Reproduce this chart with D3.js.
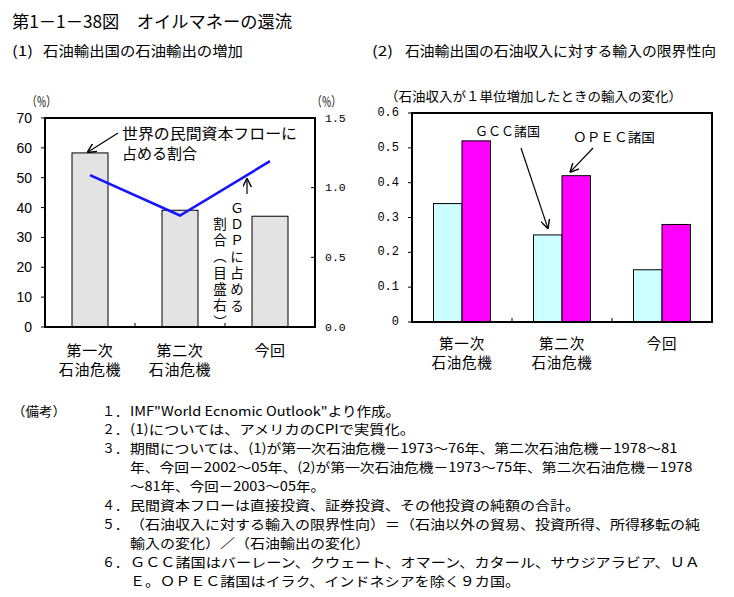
<!DOCTYPE html>
<html><head><meta charset="utf-8">
<script src="https://cdn.jsdelivr.net/npm/d3@7"></script>
<style>
body{margin:0;background:#fff;}
svg{display:block;font-family:"Noto Sans CJK JP","Noto Sans",sans-serif;}
</style></head>
<body>
<script>
// ---------- data ----------
const categories = ["第一次|石油危機", "第二次|石油危機", "今回"];
const privateFlowShare = [58.3, 39.1, 37.1];      // left axis (%) bars
const gdpShare = [1.09, 0.80, 1.19];               // right axis (%) line
const leftTicks = [0, 10, 20, 30, 40, 50, 60, 70];
const rightTicks = [0.0, 0.5, 1.0, 1.5];
const gccValues = [0.34, 0.25, 0.15];
const opecValues = [0.52, 0.42, 0.28];
const rightChartTicks = [0, 0.1, 0.2, 0.3, 0.4, 0.5, 0.6];
const notes = [
  ["１．", "IMF\"World Ecnomic Outlook\"より作成。"],
  ["２．", "(1)については、アメリカのCPIで実質化。"],
  ["３．", "期間については、(1)が第一次石油危機－1973～76年、第二次石油危機－1978～81"],
  ["", "年、今回－2002～05年、(2)が第一次石油危機－1973～75年、第二次石油危機－1978"],
  ["", "～81年、今回－2003～05年。"],
  ["４．", "民間資本フローは直接投資、証券投資、その他投資の純額の合計。"],
  ["５．", "（石油収入に対する輸入の限界性向）＝（石油以外の貿易、投資所得、所得移転の純"],
  ["", "輸入の変化）／（石油輸出の変化）"],
  ["６．", "ＧＣＣ諸国はバーレーン、クウェート、オマーン、カタール、サウジアラビア、ＵＡ"],
  ["", "Ｅ。ＯＰＥＣ諸国はイラク、インドネシアを除く９カ国。"]
];

// ---------- helpers ----------
function cells(str, full) {
  let w = 0;
  for (const ch of str) { const c = ch.codePointAt(0); w += (c < 0x100 || (c >= 0xFF61 && c <= 0xFF9F)) ? full / 2 : full; }
  return w;
}
const svg = d3.select("body").append("svg").attr("width", 734).attr("height", 597);
svg.append("rect").attr("width", 734).attr("height", 597).attr("fill", "#fff");
const defs = svg.append("defs");
defs.append("marker").attr("id", "ah").attr("viewBox", "0 0 10 10").attr("refX", 9).attr("refY", 5)
  .attr("markerWidth", 9).attr("markerHeight", 9).attr("markerUnits", "userSpaceOnUse").attr("orient", "auto")
  .append("path").attr("d", "M0,0 L10,5 L0,10").attr("fill", "none").attr("stroke", "#000").attr("stroke-width", 1.6);

function txt(x, y, s, opt = {}) {
  const t = svg.append("text").attr("x", x).attr("y", y).text(s)
    .attr("font-size", opt.size || 14).attr("fill", "#000")
    .attr("dominant-baseline", "central")
    .attr("text-anchor", opt.anchor || "start");
  if (opt.len) t.attr("textLength", opt.len).attr("lengthAdjust", "spacingAndGlyphs");
  if (opt.family) t.attr("font-family", opt.family);
  if (opt.ls) t.attr("letter-spacing", opt.ls);
  if (opt.vertical) t.style("writing-mode", "vertical-rl");
  return t;
}

// ---------- titles ----------
txt(12, 20, "第1－1－38図　オイルマネーの還流", { size: 17, len: 280 });
txt(12, 50, "(1)", { size: 14, len: 21 });
txt(43, 50, "石油輸出国の石油輸出の増加", { size: 14, len: 200 });
txt(372, 50, "(2)", { size: 14, len: 21 });
txt(405, 50, "石油輸出国の石油収入に対する輸入の限界性向", { size: 14, len: 311 });

// ---------- chart 1 ----------
const L = { l: 45, r: 315, t: 118, b: 327 };
const x1 = d3.scaleBand().domain(categories).range([L.l, L.r]);
const yL = d3.scaleLinear().domain([0, 70]).range([L.b, L.t]);
const yR = d3.scaleLinear().domain([0, 1.5]).range([L.b, L.t]);
const bw1 = x1.bandwidth();

const g1 = svg.append("g");
g1.selectAll("rect.bar").data(categories).join("rect")
  .attr("x", d => x1(d) + bw1 * 0.3).attr("width", bw1 * 0.4)
  .attr("y", (d, i) => yL(privateFlowShare[i])).attr("height", (d, i) => L.b - yL(privateFlowShare[i]))
  .attr("fill", "#e3e3e3").attr("stroke", "#000").attr("stroke-width", 1);

g1.append("path").datum(gdpShare)
  .attr("d", d3.line().x((d, i) => x1(categories[i]) + bw1 / 2).y(d => yR(d)))
  .attr("fill", "none").attr("stroke", "#1414ff").attr("stroke-width", 2.6);

g1.append("rect").attr("x", L.l).attr("y", L.t).attr("width", L.r - L.l).attr("height", L.b - L.t)
  .attr("fill", "none").attr("stroke", "#000").attr("stroke-width", 2);

leftTicks.forEach(v => {
  g1.append("line").attr("x1", L.l - 4).attr("x2", L.l).attr("y1", yL(v)).attr("y2", yL(v)).attr("stroke", "#000").attr("stroke-width", 1);
  txt(32, yL(v), String(v), { size: 14, anchor: "end", family: "Liberation Sans" });
});
rightTicks.forEach(v => {
  g1.append("line").attr("x1", L.r - 4).attr("x2", L.r).attr("y1", yR(v)).attr("y2", yR(v)).attr("stroke", "#000").attr("stroke-width", 1);
  txt(325, yR(v), v.toFixed(1), { size: 11.5, family: "Liberation Mono" });
});
categories.slice(1).forEach(c => {
  g1.append("line").attr("x1", x1(c)).attr("x2", x1(c)).attr("y1", L.b).attr("y2", L.b - 4).attr("stroke", "#000");
});
categories.forEach(c => {
  const parts = c.split("|");
  parts.forEach((p, k) => txt(x1(c) + bw1 / 2, 349 + k * 19, p, { size: 15, anchor: "middle", ls: 0.6 }));
});
txt(27, 100, "（％）", { size: 13, len: 29 });
txt(312, 100, "（％）", { size: 13, len: 29 });

// annotations chart 1
txt(122, 132, "世界の民間資本フローに", { size: 15, len: 175 });
txt(122, 152, "占める割合", { size: 15, len: 75 });
g1.append("line").attr("x1", 118).attr("y1", 133)
  .attr("x2", x1(categories[0]) + bw1 / 2 - 2).attr("y2", yL(privateFlowShare[0]) - 1)
  .attr("stroke", "#000").attr("stroke-width", 1.2).attr("marker-end", "url(#ah)");
const gx = x1(categories[2]) + bw1 / 2 - 23;
g1.append("line").attr("x1", gx).attr("y1", 194).attr("x2", gx).attr("y2", yR(gdpShare[2]) + 18)
  .attr("stroke", "#000").attr("stroke-width", 1.2).attr("marker-end", "url(#ah)");
txt(237, 201, "ＧＤＰに占める", { size: 13.5, vertical: true, ls: 2.8 });
txt(220, 217, "割合（目盛右）", { size: 13.5, vertical: true, ls: 2.8 });

// ---------- chart 2 ----------
const R = { l: 412, r: 712, t: 113, b: 322 };
const x2 = d3.scaleBand().domain(categories).range([R.l, R.r]);
const bw2 = x2.bandwidth();
const inner = d3.scaleBand().domain(["gcc", "opec"]).range([bw2 * 0.215, bw2 * 0.785]);
const y2 = d3.scaleLinear().domain([0, 0.6]).range([R.b, R.t]);
const g2 = svg.append("g");
[["gcc", gccValues, "#ccffff"], ["opec", opecValues, "#ff00ff"]].forEach(([k, vals, col]) => {
  g2.selectAll("rect." + k).data(categories).join("rect").attr("class", k)
    .attr("x", d => x2(d) + inner(k)).attr("width", inner.bandwidth())
    .attr("y", (d, i) => y2(vals[i])).attr("height", (d, i) => R.b - y2(vals[i]))
    .attr("fill", col).attr("stroke", "#000").attr("stroke-width", 1);
});
g2.append("rect").attr("x", R.l).attr("y", R.t).attr("width", R.r - R.l).attr("height", R.b - R.t)
  .attr("fill", "none").attr("stroke", "#000").attr("stroke-width", 2);
rightChartTicks.forEach(v => {
  g2.append("line").attr("x1", R.l - 4).attr("x2", R.l).attr("y1", y2(v)).attr("y2", y2(v)).attr("stroke", "#000");
  txt(399, y2(v), v === 0 ? "0" : v.toFixed(1), { size: 12, anchor: "end", family: "Liberation Mono" });
});
categories.slice(1).forEach(c => {
  g2.append("line").attr("x1", x2(c)).attr("x2", x2(c)).attr("y1", R.b).attr("y2", R.b - 4).attr("stroke", "#000");
});
categories.forEach(c => {
  c.split("|").forEach((p, k) => txt(x2(c) + bw2 / 2, 342 + k * 19, p, { size: 14.5, anchor: "middle", ls: 0.8 }));
});
txt(385, 95, "（石油収入が１単位増加したときの輸入の変化）", { size: 13, len: 297 });
txt(475, 130, "ＧＣＣ諸国", { size: 13, len: 65 });
txt(573, 136, "ＯＰＥＣ諸国", { size: 13, len: 82 });
g2.append("line").attr("x1", 521).attr("y1", 148)
  .attr("x2", x2(categories[1]) + inner("gcc") + inner.bandwidth() * 0.5).attr("y2", y2(gccValues[1]) - 7)
  .attr("stroke", "#000").attr("stroke-width", 1.2).attr("marker-end", "url(#ah)");
g2.append("line").attr("x1", 593).attr("y1", 148)
  .attr("x2", x2(categories[1]) + inner("opec") + inner.bandwidth() * 0.3).attr("y2", y2(opecValues[1]) - 4)
  .attr("stroke", "#000").attr("stroke-width", 1.2).attr("marker-end", "url(#ah)");

// ---------- notes ----------
txt(12, 410, "（備考）", { size: 13, len: 54 });
notes.forEach((n, i) => {
  const y = 410 + i * 18.9;
  if (n[0]) txt(102, y, n[0], { size: 13, len: 26 });
  txt(130, y, n[1], { size: 13, len: cells(n[1], 15) });
});
</script>
</body></html>
